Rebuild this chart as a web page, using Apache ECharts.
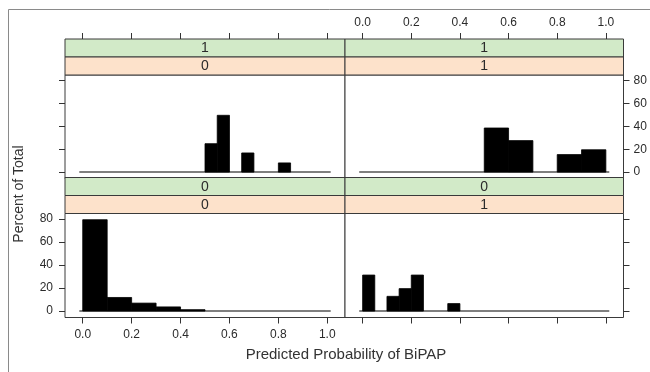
<!DOCTYPE html>
<html>
<head>
<meta charset="utf-8">
<script src="https://cdn.jsdelivr.net/npm/echarts@6/dist/echarts.min.js"></script>
<style>
html,body{margin:0;padding:0;background:#fff;}
#chart{width:650px;height:372px;}
</style>
</head>
<body>
<div id="chart"></div>
<script>
// ---- data ----
const xTicks = [0, 0.2, 0.4, 0.6, 0.8, 1.0];
const xTickLabels = ['0.0', '0.2', '0.4', '0.6', '0.8', '1.0'];
const yTicks = [0, 20, 40, 60, 80];
// panel strip labels: [outer (green), inner (orange)]
const stripTopLeft = ['1', '0'];
const stripTopRight = ['1', '1'];
const stripBottomLeft = ['0', '0'];
const stripBottomRight = ['0', '1'];
// histogram bins: [from, to, percent]
const binsTopLeft = [[0.5, 0.55, 24.8], [0.55, 0.6, 49.6], [0.65, 0.7, 16.7], [0.8, 0.85, 8.0]];
const binsTopRight = [[0.5, 0.6, 38.5], [0.6, 0.7, 27.5], [0.8, 0.9, 15.3], [0.9, 1.0, 19.5]];
const binsBottomLeft = [[0.0, 0.1, 79.4], [0.1, 0.2, 11.8], [0.2, 0.3, 6.9], [0.3, 0.4, 3.6], [0.4, 0.5, 1.2]];
const binsBottomRight = [[0.0, 0.05, 31.3], [0.1, 0.15, 12.8], [0.15, 0.2, 19.5], [0.2, 0.25, 31.3], [0.35, 0.4, 6.5]];
const baseline = [[-0.014, 0], [1.014, 0]];

const xMin = -0.0725, xMax = 1.0725, yMin = -5.6, yMax = 84.8;
const FONT = "'Liberation Sans', Arial, sans-serif";
const TXT = '#2b2b2b';

const panels = [
  {left: 65, top: 75, width: 280, height: 103.5, bins: binsTopLeft, strip: stripTopLeft,
   xPos: 'top', xLabels: false, yPos: 'left', yLabels: false},
  {left: 345, top: 75, width: 278.5, height: 103.5, bins: binsTopRight, strip: stripTopRight,
   xPos: 'top', xLabels: true, yPos: 'right', yLabels: true},
  {left: 65, top: 213.5, width: 280, height: 104, bins: binsBottomLeft, strip: stripBottomLeft,
   xPos: 'bottom', xLabels: true, yPos: 'left', yLabels: true},
  {left: 345, top: 213.5, width: 278.5, height: 104, bins: binsBottomRight, strip: stripBottomRight,
   xPos: 'bottom', xLabels: false, yPos: 'right', yLabels: false}
];
const STRIP_H = 18;

const grid = [], xAxis = [], yAxis = [], series = [], graphic = [];
panels.forEach((p, i) => {
  grid.push({left: p.left, top: p.top, width: p.width, height: p.height,
    show: true, borderColor: '#3a3a3a', borderWidth: 1, backgroundColor: '#fff', containLabel: false});
  xAxis.push({type: 'value', gridIndex: i, min: xMin, max: xMax, position: p.xPos,
    offset: p.xPos === 'top' ? 2 * STRIP_H : 0,
    axisLine: {show: false, onZero: false}, splitLine: {show: false},
    axisTick: {show: true, length: 6, customValues: xTicks, lineStyle: {color: '#333', width: 1}},
    axisLabel: {show: p.xLabels, customValues: xTicks, margin: p.xPos === 'top' ? 10 : 11,
      fontFamily: FONT, fontSize: 12, color: TXT,
      formatter: v => xTickLabels[xTicks.indexOf(Math.round(v * 10) / 10)] || ''}});
  yAxis.push({type: 'value', gridIndex: i, min: yMin, max: yMax, position: p.yPos,
    axisLine: {show: false, onZero: false}, splitLine: {show: false},
    axisTick: {show: true, length: 6, customValues: yTicks, lineStyle: {color: '#333', width: 1}},
    axisLabel: {show: p.yLabels, customValues: yTicks, margin: p.yPos === 'left' ? 12 : 10,
      fontFamily: FONT, fontSize: 12, color: TXT}});
  series.push({type: 'line', xAxisIndex: i, yAxisIndex: i, data: baseline, symbol: 'none',
    silent: true, lineStyle: {color: '#555', width: 1.5}, z: 2});
  series.push({type: 'custom', xAxisIndex: i, yAxisIndex: i, data: p.bins, z: 3,
    renderItem: function (params, api) {
      const a = api.coord([api.value(0), api.value(2)]);
      const b = api.coord([api.value(1), 0]);
      return {type: 'rect', shape: {x: a[0], y: a[1], width: b[0] - a[0], height: b[1] - a[1]},
        style: {fill: '#000', stroke: '#000', lineWidth: 0.8}};
    }});
  // strips (green outer on top, orange inner below)
  const colors = ['#d2eac8', '#fde2cb'];
  for (let k = 0; k < 2; k++) {
    const y = p.top - 2 * STRIP_H + k * STRIP_H;
    graphic.push({type: 'rect', shape: {x: p.left, y: y, width: p.width, height: STRIP_H},
      style: {fill: colors[k], stroke: '#3a3a3a', lineWidth: 1}});
    graphic.push({type: 'text', x: p.left + p.width / 2, y: y + STRIP_H / 2 + 0.5,
      style: {text: p.strip[k], fontFamily: FONT, fontSize: 14, fill: '#2b2b2b', align: 'center', verticalAlign: 'middle'}});
  }
});
// outer frame
graphic.push({type: 'rect', shape: {x: 8.5, y: 9.5, width: 700, height: 400},
  style: {fill: 'none', stroke: '#8a8a8a', lineWidth: 1}, z: -1});
// axis titles
graphic.push({type: 'text', x: 346, y: 355, style: {text: 'Predicted Probability of BiPAP',
  fontFamily: FONT, fontSize: 15, fill: '#333', align: 'center', verticalAlign: 'middle'}});
graphic.push({type: 'text', x: 19, y: 194, rotation: Math.PI / 2, style: {text: 'Percent of Total',
  fontFamily: FONT, fontSize: 14, fill: '#333', align: 'center', verticalAlign: 'middle'}});

const chart = echarts.init(document.getElementById('chart'), null, {renderer: 'canvas'});
chart.setOption({animation: false, backgroundColor: '#fff', grid, xAxis, yAxis, series, graphic});
</script>
</body>
</html>
